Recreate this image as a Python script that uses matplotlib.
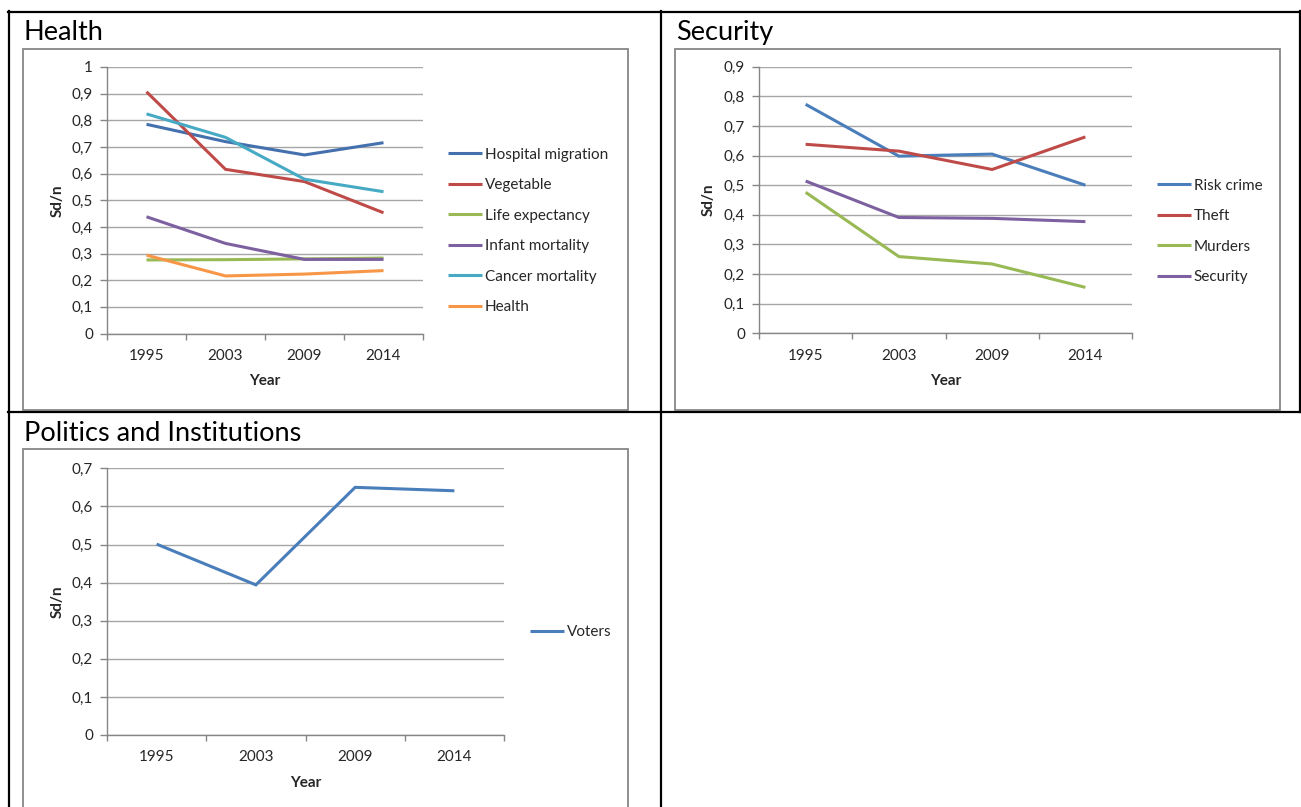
import matplotlib
matplotlib.use("Agg")
import matplotlib.pyplot as plt
from matplotlib.lines import Line2D
from matplotlib.patches import Rectangle
from matplotlib.ticker import MultipleLocator, FuncFormatter

plt.rcParams["font.family"] = ["Lato", "DejaVu Sans"]

W, H = 1301, 807

years = ["1995", "2003", "2009", "2014"]

# Health
hospital_migration = [0.785, 0.720, 0.670, 0.716]
vegetable = [0.907, 0.616, 0.570, 0.453]
life_expectancy = [0.276, 0.277, 0.280, 0.283]
infant_mortality = [0.438, 0.338, 0.278, 0.278]
cancer_mortality = [0.824, 0.736, 0.579, 0.532]
health = [0.294, 0.216, 0.223, 0.236]

# Security
risk_crime = [0.773, 0.598, 0.605, 0.500]
theft = [0.638, 0.615, 0.553, 0.663]
murders = [0.476, 0.259, 0.234, 0.155]
security = [0.514, 0.391, 0.388, 0.377]

# Politics and Institutions
voters = [0.501, 0.394, 0.650, 0.641]

BLUE, RED, GREEN = "#4A7EBB", "#BE4B48", "#98B954"
PURPLE, TEAL, ORANGE = "#7D60A0", "#46AAC5", "#F79646"
AXIS_GREY, GRID_GREY, TEXT = "#868686", "#A6A6A6", "#262626"
SMALL = 11


def fx(x):
    return x / W


def fy(y):
    return 1 - y / H


def comma_fmt(v, _):
    if abs(v) < 1e-9:
        return "0"
    if abs(v - 1) < 1e-9:
        return "1"
    return f"{v:.1f}".replace(".", ",")


def hline(fig, x0, x1, y):
    fig.add_artist(Line2D([fx(x0), fx(x1)], [fy(y), fy(y)], color="black", lw=1.6))


def vline(fig, x, y0, y1):
    fig.add_artist(Line2D([fx(x), fx(x)], [fy(y0), fy(y1)], color="black", lw=1.6))


def chart_box(fig, x0, y0, x1, y1):
    fig.add_artist(Rectangle((fx(x0), fy(y1)), fx(x1) - fx(x0), fy(y0) - fy(y1),
                             transform=fig.transFigure, fill=False,
                             ec=AXIS_GREY, lw=1.3))


def panel(fig, title, title_xy, area, ymax, series, legend_xy, ylabel_x, xlabel_y):
    x0, y0, x1, y1 = area
    fig.text(fx(title_xy[0]), fy(title_xy[1]), title, fontsize=19.5,
             color="black", va="baseline", ha="left")
    ax = fig.add_axes([fx(x0), fy(y1), fx(x1) - fx(x0), fy(y0) - fy(y1)])
    xs = range(len(years))
    for label, vals, color in series:
        ax.plot(xs, vals, color=color, lw=2.2, label=label,
                solid_joinstyle="miter", solid_capstyle="butt")
    ax.set_xlim(-0.5, len(years) - 0.5)
    ax.set_ylim(0, ymax)
    ax.yaxis.set_major_locator(MultipleLocator(0.1))
    ax.yaxis.set_major_formatter(FuncFormatter(comma_fmt))
    ax.grid(axis="y", color=GRID_GREY, lw=1)
    ax.set_axisbelow(True)
    for side in ("top", "right"):
        ax.spines[side].set_visible(False)
    for side in ("left", "bottom"):
        ax.spines[side].set_color(AXIS_GREY)
        ax.spines[side].set_linewidth(1)
    ax.set_xticks(list(xs), years)
    ax.set_xticks([i - 0.5 for i in range(len(years) + 1)], minor=True)
    ax.tick_params(axis="x", which="major", length=0, pad=11,
                   labelsize=SMALL, labelcolor=TEXT)
    ax.tick_params(axis="x", which="minor", length=4, color=AXIS_GREY, width=1)
    ax.tick_params(axis="y", length=5, color=AXIS_GREY, width=1, pad=5,
                   labelsize=SMALL, labelcolor=TEXT)
    fig.text(fx((x0 + x1) / 2), fy(xlabel_y), "Year", fontsize=SMALL,
             fontweight="bold", color=TEXT, ha="center", va="center")
    fig.text(fx(ylabel_x), fy((y0 + y1) / 2), "Sd/n", fontsize=SMALL,
             fontweight="bold", color=TEXT, ha="center", va="center",
             rotation=90)
    ax.legend(loc="center left", bbox_to_anchor=(fx(legend_xy[0]), fy(legend_xy[1])),
              bbox_transform=fig.transFigure, frameon=False, borderpad=0,
              borderaxespad=0, handlelength=2.2, handletextpad=0.2,
              labelspacing=1.08, fontsize=SMALL, labelcolor=TEXT)
    return ax


fig = plt.figure(figsize=(W / 100, H / 100), dpi=100)
fig.patch.set_facecolor("white")

# table grid
hline(fig, 8, 1301, 11.5)
hline(fig, 8, 1301, 411.5)
vline(fig, 9, 11, 807)
vline(fig, 661, 11, 807)
vline(fig, 1299.5, 11, 411.5)

# chart frames
chart_box(fig, 23, 49, 628, 410)
chart_box(fig, 675, 49, 1280, 410)
chart_box(fig, 23, 449, 628, 830)

panel(fig, "Health", (24, 40), (107, 67, 423, 333.5), 1.0,
      [("Hospital migration", hospital_migration, "#4470AE"),
       ("Vegetable", vegetable, RED),
       ("Life expectancy", life_expectancy, GREEN),
       ("Infant mortality", infant_mortality, PURPLE),
       ("Cancer mortality", cancer_mortality, TEAL),
       ("Health", health, ORANGE)],
      (448, 231), 58, 381)

panel(fig, "Security", (676, 40), (759, 66.7, 1132, 333.3), 0.9,
      [("Risk crime", risk_crime, BLUE),
       ("Theft", theft, RED),
       ("Murders", murders, GREEN),
       ("Security", security, PURPLE)],
      (1157, 231.5), 709, 381)

panel(fig, "Politics and Institutions", (24, 441), (107, 468.3, 504, 735), 0.7,
      [("Voters", voters, BLUE)],
      (530, 632), 58, 783)

fig.savefig("out.png", dpi=100)
